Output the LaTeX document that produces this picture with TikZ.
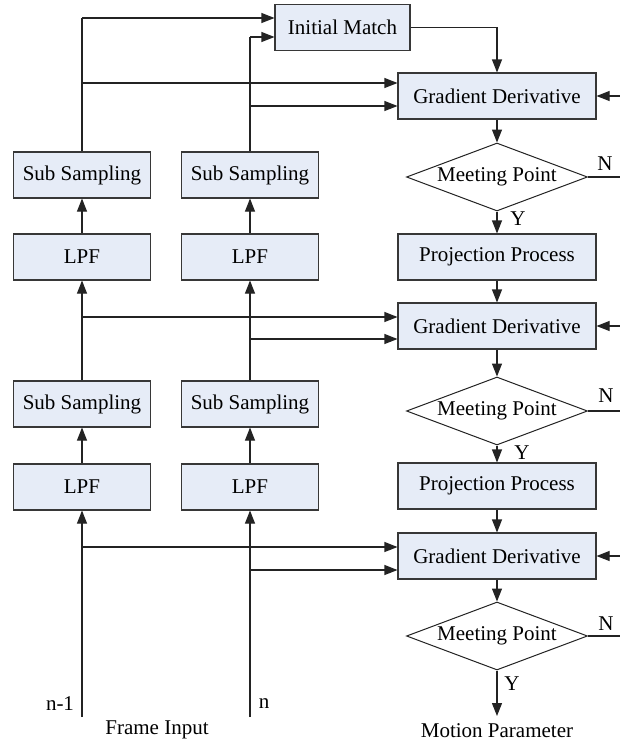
\documentclass[tikz,border=0pt]{standalone}
\usepackage{fontspec}
\setmainfont{Liberation Serif}
\usetikzlibrary{arrows.meta,shapes.geometric}
\definecolor{boxfill}{RGB}{230,236,247}
\definecolor{boxline}{RGB}{55,55,55}
\definecolor{wire}{RGB}{35,35,35}
\begin{document}
\begin{tikzpicture}[x=1pt,y=-1pt,
  txt/.style={font=\fontsize{21}{24}\selectfont},
  box/.style={txt,draw=boxline,fill=boxfill,line width=1.1pt,minimum height=46pt,inner sep=0pt},
  rbox/.style={box,minimum width=198pt},
  lbox/.style={box,minimum width=137pt},
  dia/.style={txt,draw=wire,fill=white,line width=1pt,shape=diamond,aspect=2.66,
    minimum width=181pt,minimum height=68pt,inner sep=0pt},
  wireline/.style={draw=wire,line width=1.1pt},
  arr/.style={wireline,-{Triangle[length=13pt,width=10pt]}},
  lbl/.style={txt,inner sep=0pt}]
\useasboundingbox (0,0) rectangle (620,742);

% right column: matching and refinement chain
\node[box,minimum width=135pt] (im) at (342.5,27.5) {Initial Match};
\node[rbox] (gd1) at (497,96) {Gradient Derivative};
\node[dia]  (mp1) at (497,177) {Meeting Point};
\node[rbox] (pp1) at (497,257) {Projection Process};
\node[rbox] (gd2) at (497,326) {Gradient Derivative};
\node[dia]  (mp2) at (497,411) {Meeting Point};
\node[rbox] (pp2) at (497,486) {Projection Process};
\node[rbox] (gd3) at (497,556) {Gradient Derivative};
\node[dia]  (mp3) at (497,636) {Meeting Point};
\node[lbl]  (mpar) at (497,731) {Motion Parameter};

% left columns: pyramid of the two frames
\node[lbox] (ssa1) at (82,175) {Sub Sampling};
\node[lbox] (ssb1) at (250,175) {Sub Sampling};
\node[lbox] (lpfa1) at (82,257) {LPF};
\node[lbox] (lpfb1) at (250,257) {LPF};
\node[lbox] (ssa2) at (82,404) {Sub Sampling};
\node[lbox] (ssb2) at (250,404) {Sub Sampling};
\node[lbox] (lpfa2) at (82,487) {LPF};
\node[lbox] (lpfb2) at (250,487) {LPF};

% input labels
\node[lbl] (lna) at (60,704) {n-1};
\node[lbl] (lnb) at (264,704) {n};
\node[lbl] (fin) at (157,730) {Frame Input};

% Y / N labels
\node[lbl] (y1) at (518,219) {Y};
\node[lbl] (y2) at (522,453) {Y};
\node[lbl] (y3) at (512,684) {Y};
\node[lbl] (n1) at (605,164) {N};
\node[lbl] (n2) at (606,396) {N};
\node[lbl] (n3) at (606,624) {N};

% junction and end points
\coordinate (ina) at (82,717);
\coordinate (inb) at (250,717);
\coordinate (ta) at (82,18);
\coordinate (tb) at (250,37);
\coordinate (ba1) at (82,83);
\coordinate (bb1) at (250,106);
\coordinate (ba2) at (82,317);
\coordinate (bb2) at (250,339);
\coordinate (ba3) at (82,547);
\coordinate (bb3) at (250,570);
\coordinate (out) at (497,716);
\coordinate (ne1) at (620,177);
\coordinate (ne2) at (620,411);
\coordinate (ne3) at (620,636);
\coordinate (fb1) at (620,96);
\coordinate (fb2) at (620,326);
\coordinate (fb3) at (620,556);

% frame pyramid
\draw[arr] (ina) -- (lpfa2.south);
\draw[arr] (inb) -- (lpfb2.south);
\draw[arr] (lpfa2.north) -- (ssa2.south);
\draw[arr] (lpfb2.north) -- (ssb2.south);
\draw[arr] (ssa2.north) -- (lpfa1.south);
\draw[arr] (ssb2.north) -- (lpfb1.south);
\draw[arr] (lpfa1.north) -- (ssa1.south);
\draw[arr] (lpfb1.north) -- (ssb1.south);
\draw[wireline] (ssa1.north) -- (ta);
\draw[wireline] (ssb1.north) -- (tb);
\draw[arr] (ta) -- (ta -| im.west);
\draw[arr] (tb) -- (tb -| im.west);

% level feeds into gradient derivative
\draw[arr] (ba1) -- (ba1 -| gd1.west);
\draw[arr] (bb1) -- (bb1 -| gd1.west);
\draw[arr] (ba2) -- (ba2 -| gd2.west);
\draw[arr] (bb2) -- (bb2 -| gd2.west);
\draw[arr] (ba3) -- (ba3 -| gd3.west);
\draw[arr] (bb3) -- (bb3 -| gd3.west);

% refinement chain
\draw[arr] (im.east) -| (gd1.north);
\draw[arr] (gd1.south) -- (mp1.north);
\draw[arr] (mp1.south) -- (pp1.north);
\draw[arr] (pp1.south) -- (gd2.north);
\draw[arr] (gd2.south) -- (mp2.north);
\draw[arr] (mp2.south) -- (pp2.north);
\draw[arr] (pp2.south) -- (gd3.north);
\draw[arr] (gd3.south) -- (mp3.north);
\draw[arr] (mp3.south) -- (out);

% N branches and feedback
\draw[wireline] (mp1.east) -- (ne1);
\draw[wireline] (mp2.east) -- (ne2);
\draw[wireline] (mp3.east) -- (ne3);
\draw[arr] (fb1) -- (gd1.east);
\draw[arr] (fb2) -- (gd2.east);
\draw[arr] (fb3) -- (gd3.east);
\end{tikzpicture}
\end{document}
